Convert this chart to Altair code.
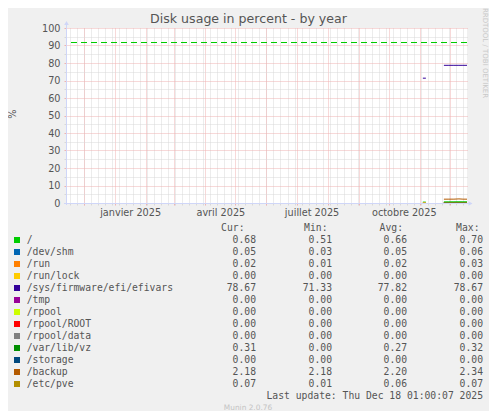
import altair as alt
import pandas as pd

TITLE = "Disk usage in percent - by year"
Y_TITLE = "%"
WATERMARK = "RRDTOOL / TOBI OETIKER"
FOOTER = "Munin 2.0.76"
LAST_UPDATE = "Last update: Thu Dec 18 01:00:07 2025"

START = alt.DateTime(year=2024, month=11, date=13, hours=1, utc=True)
END = alt.DateTime(year=2025, month=12, date=18, hours=1, utc=True)

NAMES = ["/", "/dev/shm", "/run", "/run/lock", "/sys/firmware/efi/efivars", "/tmp",
         "/rpool", "/rpool/ROOT", "/rpool/data", "/var/lib/vz", "/storage", "/backup", "/etc/pve"]
COLORS = ["#00CC00", "#0066B3", "#FF8000", "#FFCC00", "#330099", "#990099",
          "#CCFF00", "#FF0000", "#808080", "#008F00", "#00487D", "#B35A00", "#B38F00"]
CUR = [0.68, 0.05, 0.02, 0.00, 78.67, 0.00, 0.00, 0.00, 0.00, 0.31, 0.00, 2.18, 0.07]
MIN = [0.51, 0.03, 0.01, 0.00, 71.33, 0.00, 0.00, 0.00, 0.00, 0.00, 0.00, 2.18, 0.01]
AVG = [0.66, 0.05, 0.02, 0.00, 77.82, 0.00, 0.00, 0.00, 0.00, 0.27, 0.00, 2.20, 0.06]
MAX = [0.70, 0.06, 0.03, 0.00, 78.67, 0.00, 0.00, 0.00, 0.00, 0.32, 0.00, 2.34, 0.07]
HEADERS = ["Cur:", "Min:", "Avg:", "Max:"]

WARNING = 92

# early short run of samples (early november)
SHORT_DATES = ["2025-11-04T00:00:00Z", "2025-11-07T00:00:00Z"]
SHORT_SERIES = ["/", "/dev/shm", "/run", "/run/lock", "/sys/firmware/efi/efivars"]
SHORT_VALUES = [[0.51, 0.52], [0.03, 0.03], [0.01, 0.01], [0.00, 0.00], [71.33, 71.33]]

# continuous samples since late november
LONG_DATES = ["2025-11-25T00:00:00Z", "2025-11-30T00:00:00Z", "2025-12-05T00:00:00Z",
              "2025-12-10T00:00:00Z", "2025-12-14T00:00:00Z", "2025-12-18T01:00:00Z"]
LONG_VALUES = [
    [0.66, 0.67, 0.68, 0.70, 0.69, 0.68],
    [0.05, 0.05, 0.06, 0.05, 0.05, 0.05],
    [0.02, 0.02, 0.03, 0.02, 0.02, 0.02],
    [0.00, 0.00, 0.00, 0.00, 0.00, 0.00],
    [78.67, 78.67, 78.67, 78.67, 78.67, 78.67],
    [0.00, 0.00, 0.00, 0.00, 0.00, 0.00],
    [0.00, 0.00, 0.00, 0.00, 0.00, 0.00],
    [0.00, 0.00, 0.00, 0.00, 0.00, 0.00],
    [0.00, 0.00, 0.00, 0.00, 0.00, 0.00],
    [0.27, 0.30, 0.31, 0.32, 0.31, 0.31],
    [0.00, 0.00, 0.00, 0.00, 0.00, 0.00],
    [2.18, 2.19, 2.20, 2.34, 2.20, 2.18],
    [0.05, 0.06, 0.06, 0.07, 0.07, 0.07],
]

MONTHS_FR = ["janvier", "février", "mars", "avril", "mai", "juin", "juillet",
             "août", "septembre", "octobre", "novembre", "décembre"]
LABEL_DATES = [alt.DateTime(year=2025, month=m, date=16, utc=True) for m in (1, 4, 7, 10)]
Y_MAJOR = [0, 10, 20, 30, 40, 50, 60, 70, 80, 90, 100]
Y_MINOR = [5, 15, 25, 35, 45, 55, 65, 75, 85, 95]

FONT = "DejaVu Sans"
MONO = "DejaVu Sans Mono"
INK = "#555555"
RED_GRID = "#efb2b2"
GRAY_GRID = "#d8d8d8"
AXIS_BLUE = "#CFD6F8"

rows = []
for name, vals in zip(SHORT_SERIES, SHORT_VALUES):
    for d, v in zip(SHORT_DATES, vals):
        rows.append({"fs": name, "seg": "a", "t": d, "v": v})
for name, vals in zip(NAMES, LONG_VALUES):
    for d, v in zip(LONG_DATES, vals):
        rows.append({"fs": name, "seg": "b", "t": d, "v": v})
lines_df = pd.DataFrame(rows)

legend_df = pd.DataFrame({
    "row": list(range(len(NAMES))), "fs": NAMES, "color": COLORS,
    "cur": CUR, "min": MIN, "avg": AVG, "max": MAX,
})
one = pd.DataFrame({"k": [0]})

XS = alt.Scale(type="utc", domain=[START, END])
YS = alt.Scale(domain=[0, 100], nice=False, zero=False)
ROWS = alt.Scale(range=[212, 356], padding=0)

months_js = "[" + ",".join(f"'{m}'" for m in MONTHS_FR) + "]"


def grid_layer(x_axis, y_axis):
    return alt.Chart(lines_df).mark_line(strokeOpacity=0).encode(
        x=alt.X("t:T", scale=XS, axis=x_axis),
        y=alt.Y("v:Q", scale=YS, axis=y_axis),
        detail="fs:N",
    )


def label(text, x, y, **kw):
    return alt.Chart(one).mark_text(**kw).encode(
        x=alt.value(x), y=alt.value(y), text=alt.value(text)
    )


week_grid = grid_layer(
    alt.Axis(orient="bottom", tickCount={"interval": "week", "step": 1}, grid=True,
             gridColor=GRAY_GRID, gridDash=[1, 1], labels=False, ticks=True,
             tickColor=GRAY_GRID, tickSize=2, domain=False, title=None),
    alt.Axis(orient="left", values=Y_MINOR, grid=True, gridColor=GRAY_GRID,
             gridDash=[1, 1], labels=False, ticks=True, tickColor=GRAY_GRID,
             tickSize=2, domain=False, title=None),
)
month_grid = grid_layer(
    alt.Axis(orient="bottom", tickCount={"interval": "month", "step": 1}, grid=True,
             gridColor=RED_GRID, gridDash=[1, 1], labels=False, ticks=True,
             tickColor=RED_GRID, tickSize=2, domain=False, title=None),
    alt.Axis(orient="left", values=Y_MAJOR, grid=True, gridColor=RED_GRID,
             gridDash=[1, 1], labels=False, ticks=True, tickColor=RED_GRID,
             tickSize=2, domain=False, title=None),
)
label_axes = grid_layer(
    alt.Axis(orient="bottom", values=LABEL_DATES, grid=False, ticks=False, domain=False,
             labelExpr=f"{months_js}[utcmonth(datum.value)] + ' ' + utcyear(datum.value)",
             labelPadding=4, labelFlush=False, labelOverlap=False, labelBound=False,
             labelFont=FONT, labelFontSize=9.7, labelColor=INK, title=None),
    alt.Axis(orient="left", values=Y_MAJOR, grid=False, ticks=False, domain=False,
             labelPadding=6, labelFlush=False, labelOverlap=False,
             labelFont=FONT, labelFontSize=9.7, labelColor=INK, title=None),
)

warn = alt.Chart(pd.DataFrame({"v": [WARNING]})).mark_rule(
    color="#00CC00", strokeDash=[6, 4], strokeWidth=1, yOffset=0.5
).encode(y=alt.Y("v:Q", scale=YS, axis=None))

data_lines = alt.Chart(lines_df).mark_line(strokeWidth=1).encode(
    x=alt.X("t:T", scale=XS, axis=None),
    y=alt.Y("v:Q", scale=YS, axis=None),
    color=alt.Color("fs:N", scale=alt.Scale(domain=NAMES, range=COLORS), legend=None),
    detail="seg:N",
)

# rrdtool style axis lines with arrows
y_line = alt.Chart(one).mark_rule(color=AXIS_BLUE).encode(
    x=alt.value(0.5), y=alt.value(-4), y2=alt.value(177))
x_line = alt.Chart(one).mark_rule(color=AXIS_BLUE).encode(
    x=alt.value(-2), x2=alt.value(403), y=alt.value(175.5))
y_arrow = alt.Chart(one).mark_point(shape="triangle-up", filled=True, size=22,
                                    color=AXIS_BLUE, opacity=1).encode(
    x=alt.value(0.5), y=alt.value(-5))
x_arrow = alt.Chart(one).mark_point(shape="triangle-right", filled=True, size=22,
                                    color=AXIS_BLUE, opacity=1).encode(
    x=alt.value(404.5), y=alt.value(175.5))

# legend table
swatches = alt.Chart(legend_df).mark_square(size=36, opacity=1).encode(
    x=alt.value(-49), y=alt.Y("row:O", scale=ROWS, axis=None),
    color=alt.Color("color:N", scale=None),
)
names = alt.Chart(legend_df).mark_text(
    align="left", baseline="middle", font=MONO, fontSize=9.72, color=INK
).encode(x=alt.value(-39.3), y=alt.Y("row:O", scale=ROWS, axis=None), text="fs:N")

value_cols = []
for field, xr in zip(["cur", "min", "avg", "max"], [190, 266, 341, 417]):
    value_cols.append(
        alt.Chart(legend_df).mark_text(
            align="right", baseline="middle", font=MONO, fontSize=9.72, color=INK
        ).encode(x=alt.value(xr), y=alt.Y("row:O", scale=ROWS, axis=None),
                 text=alt.Text(f"{field}:Q", format=".2f"))
    )

headers = [
    label(h, xr, 199.7, align="right", baseline="middle", font=MONO, fontSize=9.72, color=INK)
    for h, xr in zip(HEADERS, [178.5, 261.5, 337, 413.5])
]

texts = [
    label(TITLE, 182.5, -9, align="center", baseline="middle", font=FONT, fontSize=12.6, color=INK),
    label(Y_TITLE, -53.5, 86.2, align="center", baseline="middle", font=FONT, fontSize=9.7,
          color=INK, angle=270),
    label(WATERMARK, 419, 25, align="center", baseline="middle", font=FONT, fontSize=7,
          color="#c8c8c8", angle=90),
    label(LAST_UPDATE, 417, 368, align="right", baseline="middle", font=MONO, fontSize=9.72,
          color=INK),
    label(FOOTER, 182, 379.7, align="center", baseline="middle", font=FONT, fontSize=7.4,
          color="#c4c4c4"),
]

chart = alt.layer(
    week_grid, month_grid, label_axes, warn, data_lines,
    y_line, x_line, y_arrow, x_arrow,
    swatches, names, *value_cols, *headers, *texts,
).resolve_scale(y="independent").resolve_axis(x="independent", y="independent").properties(
    width=401,
    height=175,
    background="#F0F0F0",
    padding={"left": 58, "top": 20, "right": 22, "bottom": 208},
    autosize=alt.AutoSizeParams(type="none"),
).configure_view(fill="white", stroke=None)

chart.save("out.html", embed_options={"renderer": "svg", "actions": False})
